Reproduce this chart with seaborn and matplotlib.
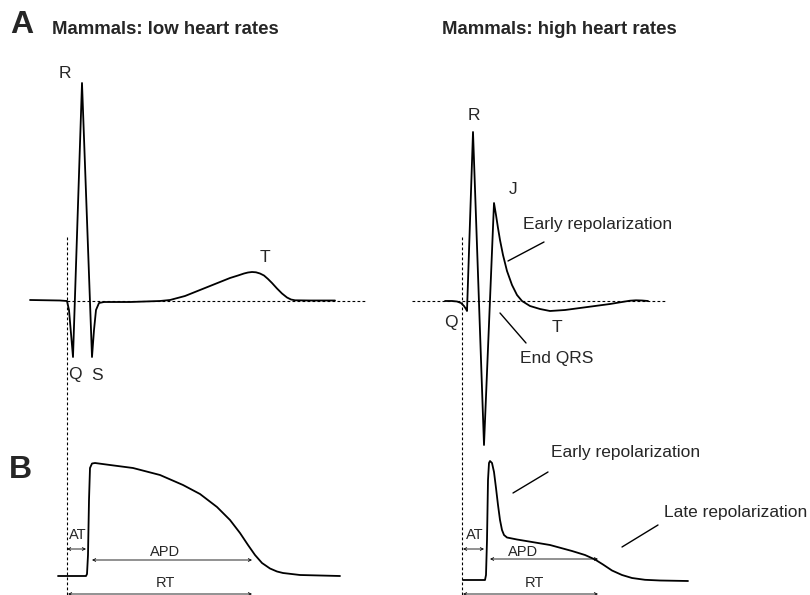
import matplotlib
matplotlib.use("Agg")
import matplotlib.pyplot as plt
import seaborn as sns
import pandas as pd

sns.set_theme(style="white")
plt.rcParams['font.family'] = ['Liberation Sans', 'DejaVu Sans']

# ---- traces (schematic, coordinates in pixel space) ----
ecg_low_x = [30, 60, 67, 69, 73, 82, 92, 94, 96, 99, 104, 130, 160, 170, 185, 200, 215, 230, 238,
             244, 248, 252, 256, 260, 264, 268, 272, 277, 282, 287, 291, 295, 310, 335]
ecg_low_y = [300, 300.5, 301, 310, 357, 83, 357, 330, 310, 303, 302, 302, 301, 300, 296, 290, 284,
             278, 275.5, 273.5, 272.5, 272, 272.3, 273.5, 275.5, 279, 283, 288.5, 293.5, 297.5,
             299.5, 300.3, 300.5, 300.5]

ap_low_x = [58, 86, 87, 88, 89, 90, 92, 95, 110, 133, 160, 183, 200, 217, 230, 240, 248, 255, 262,
            270, 277, 283, 300, 340]
ap_low_y = [576, 576, 574, 555, 500, 468, 463.5, 463, 465, 468, 475, 485, 494, 507, 520, 533, 545,
            555, 563, 568.5, 571.5, 573, 575, 576]

ecg_high_x = [445, 452, 457, 461, 464, 466, 467, 473, 484, 494, 496, 498, 500, 503, 507, 512, 517,
              522, 530, 540, 550, 565, 580, 595, 610, 622, 630, 636, 642, 648]
ecg_high_y = [301, 301, 301.5, 303, 306, 309, 311, 132, 445, 203, 215, 228, 240, 255, 271, 285,
              295, 301, 306, 309, 311, 310, 308, 306, 304, 302, 300.7, 300.3, 300.5, 301]

ap_high_x = [463, 485, 486, 487, 488, 489, 490, 492, 494, 496, 498, 500, 502, 504, 507, 512, 517,
             538, 550, 572, 585, 595, 603, 612, 622, 632, 645, 660, 688]
ap_high_y = [580, 580, 575, 540, 480, 463, 461, 463, 472, 488, 505, 520, 530, 535, 537.5, 538.5,
             539.5, 543, 545, 551, 555, 559.5, 564.5, 570.5, 575, 578, 579.8, 580.5, 581]

titles = ["Mammals: low heart rates", "Mammals: high heart rates"]
panel_letters = ["A", "B"]
wave_labels_low = ["R", "T", "Q", "S"]
wave_labels_high = ["R", "J", "Q", "T"]
interval_labels = ["AT", "APD", "RT"]
callouts = ["Early repolarization", "End QRS", "Early repolarization", "Late repolarization"]

fig = plt.figure(figsize=(8.1, 5.95), dpi=100)
ax = fig.add_axes([0, 0, 1, 1])

K = "black"
lw = 1.3

# dashed reference lines
dash = dict(color=K, lw=0.8, ls=(0, (2.5, 2)))
ax.plot([67, 365], [301, 301], **dash)
ax.plot([412, 665], [301, 301], **dash)
ax.plot([67, 67], [237, 595], **dash)
ax.plot([462, 462], [237, 595], **dash)

for xs, ys in [(ecg_low_x, ecg_low_y), (ap_low_x, ap_low_y),
               (ecg_high_x, ecg_high_y), (ap_high_x, ap_high_y)]:
    df = pd.DataFrame({"x": xs, "y": ys})
    sns.lineplot(data=df, x="x", y="y", sort=False, estimator=None, color=K, lw=lw, ax=ax)
ax.set_xlim(0, 810)
ax.set_ylim(595, 0)
ax.axis("off")

# arrows
def darrow(x0, x1, y):
    ax.annotate("", xy=(x0, y), xytext=(x1, y),
                arrowprops=dict(arrowstyle="<->", color=K, lw=0.6, mutation_scale=5,
                                shrinkA=0, shrinkB=0))

darrow(67, 86, 549)
darrow(92, 252, 560)
darrow(68, 252, 594)
darrow(463, 484, 549)
darrow(490, 598, 559)
darrow(463, 598, 594)

# callout lines
for (x0, y0, x1, y1) in [(508, 261, 544, 242), (500, 313, 526, 343),
                         (513, 493, 548, 472), (622, 547, 658, 525)]:
    ax.plot([x0, x1], [y0, y1], color=K, lw=1.0)

# texts
ax.text(22, 25, panel_letters[0], fontsize=23, fontweight="bold", ha="center", va="center")
ax.text(20, 470, panel_letters[1], fontsize=23, fontweight="bold", ha="center", va="center")
ax.text(52, 29, titles[0], fontsize=13.4, fontweight="bold", ha="left", va="center")
ax.text(442, 29, titles[1], fontsize=13.4, fontweight="bold", ha="left", va="center")

fs = 12.5
for lab, (x, y) in zip(wave_labels_low, [(65, 73), (265, 257), (75, 375), (97, 375)]):
    ax.text(x, y, lab, fontsize=fs, ha="center", va="center")
for lab, (x, y) in zip(wave_labels_high, [(474, 115), (513, 190), (451, 322), (557, 328)]):
    ax.text(x, y, lab, fontsize=fs, ha="center", va="center")

ax.text(598, 224, callouts[0], fontsize=fs, ha="center", va="center")
ax.text(557, 358, callouts[1], fontsize=fs, ha="center", va="center")
ax.text(626, 453, callouts[2], fontsize=fs, ha="center", va="center")
ax.text(736, 512, callouts[3], fontsize=fs, ha="center", va="center")

fs2 = 10.5
for lab, (x, y) in zip(interval_labels, [(78, 535), (165, 552), (165, 583)]):
    ax.text(x, y, lab, fontsize=fs2, ha="center", va="center")
for lab, (x, y) in zip(interval_labels, [(475, 535), (523, 552), (534, 583)]):
    ax.text(x, y, lab, fontsize=fs2, ha="center", va="center")

fig.savefig("out.png", dpi=100)
